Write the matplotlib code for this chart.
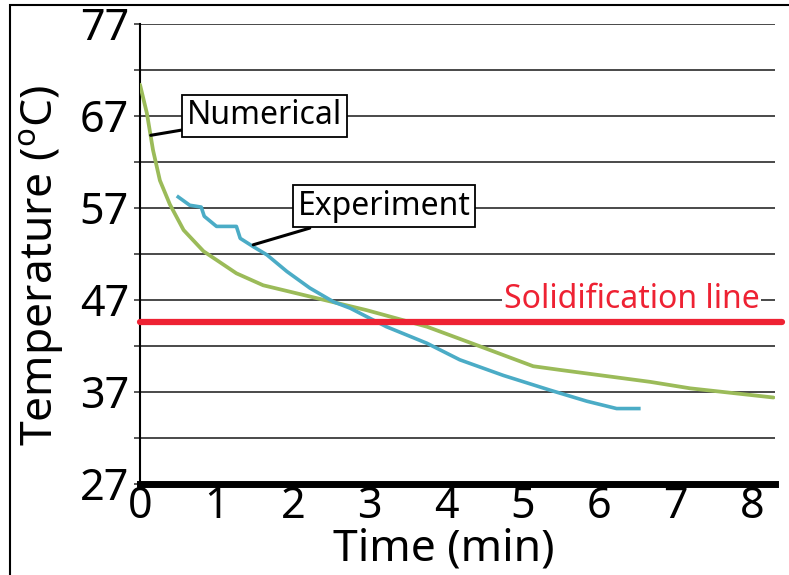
import matplotlib
matplotlib.use("Agg")
import matplotlib.pyplot as plt
from matplotlib.patches import Rectangle

plt.rcParams['font.family'] = ['Noto Sans', 'DejaVu Sans']

# Data
num_t = [0.0, 0.09, 0.17, 0.26, 0.39, 0.57, 0.83, 1.26, 1.61, 2.31, 2.96, 3.75, 4.40, 5.14, 5.49, 6.67, 7.19, 8.28]
num_T = [70.4, 67.3, 63.3, 60.0, 57.4, 54.6, 52.3, 49.9, 48.6, 47.2, 45.9, 44.1, 42.1, 39.8, 39.4, 38.1, 37.4, 36.4]

exp_t = [0.50, 0.65, 0.80, 0.84, 1.00, 1.26, 1.31, 1.48, 1.66, 1.92, 2.22, 2.53, 2.75, 2.96, 3.22, 3.75, 4.18, 4.75, 5.36, 5.84, 6.23, 6.52]
exp_T = [58.2, 57.3, 57.1, 56.1, 55.0, 55.0, 53.7, 52.8, 51.9, 50.1, 48.3, 46.8, 46.1, 45.2, 44.1, 42.3, 40.5, 38.8, 37.2, 36.0, 35.2, 35.2]

solid_T = 44.6
y_ticks = [27, 37, 47, 57, 67, 77]
grid_T = [32, 37, 42, 47, 52, 57, 62, 67, 72, 77]
x_ticks = [0, 1, 2, 3, 4, 5, 6, 7, 8]

W, H = 789, 575
fig = plt.figure(figsize=(W / 100, H / 100), dpi=100)
L, R, T, B = 140, 775, 24, 484
ax = fig.add_axes([L / W, 1 - B / H, (R - L) / W, (B - T) / H])
ax.set_xlim(0, 8.3)
ax.set_ylim(27, 77)

for g in grid_T:
    ax.axhline(g, color='#3a3a3a', lw=1.3, zorder=1)
ax.set_yticks(grid_T + [27])
ax.set_yticklabels([str(v) if v in y_ticks else '' for v in grid_T + [27]])
ax.tick_params(axis='y', length=4, width=1.2, color='#3a3a3a', labelsize=31, pad=4)
ax.set_xticks(x_ticks)
ax.set_xticklabels([str(v) for v in x_ticks])
ax.tick_params(axis='x', length=0, labelsize=31, pad=1)

for s in ['top', 'right']:
    ax.spines[s].set_visible(False)
ax.spines['left'].set_linewidth(1.5)
ax.spines['bottom'].set_linewidth(5)
ax.spines['bottom'].set_zorder(5)

ax.plot(num_t, num_T, color='#9BBB59', lw=2.7, zorder=3, solid_capstyle='round')
ax.plot(exp_t, exp_T, color='#4BACC6', lw=2.6, zorder=3)

ax.plot([0, 8.39], [solid_T, solid_T], color='#EE2233', lw=4.5, zorder=4, clip_on=False, solid_capstyle='round')

ax.text(6.43, 47, 'Solidification line', color='#EE2233', fontsize=23, ha='center', va='center',
        bbox=dict(boxstyle='square,pad=0.05', fc='white', ec='none'), zorder=2)

box = dict(boxstyle='square,pad=0.15', fc='white', ec='black', lw=1.3)
ax.annotate('Numerical', xy=(0.14, 64.9), xytext=(1.63, 67.0), fontsize=23, ha='center', va='center',
            bbox=box, arrowprops=dict(arrowstyle='-', color='black', lw=2.2, shrinkA=0, shrinkB=0), zorder=6)
ax.annotate('Experiment', xy=(1.48, 53.0), xytext=(3.19, 57.2), fontsize=23, ha='center', va='center',
            bbox=box, arrowprops=dict(arrowstyle='-', color='black', lw=2.2, shrinkA=0, shrinkB=0), zorder=6)

ax.set_ylabel('Temperature ($^{\\mathregular{o}}$C)', fontsize=32)
ax.set_xlabel('Time (min)', fontsize=32)
ax.xaxis.set_label_coords((444 - L) / (R - L), -(528 - B) / (B - T))
ax.yaxis.set_label_coords(-(L - 66) / (R - L), (B - 265) / (B - T))

fig.add_artist(Rectangle((9.5 / W, -0.1), 2, 1.1 - 5.5 / H, transform=fig.transFigure,
                         fill=False, ec='black', lw=1.5))

fig.savefig('out.png', dpi=100)
